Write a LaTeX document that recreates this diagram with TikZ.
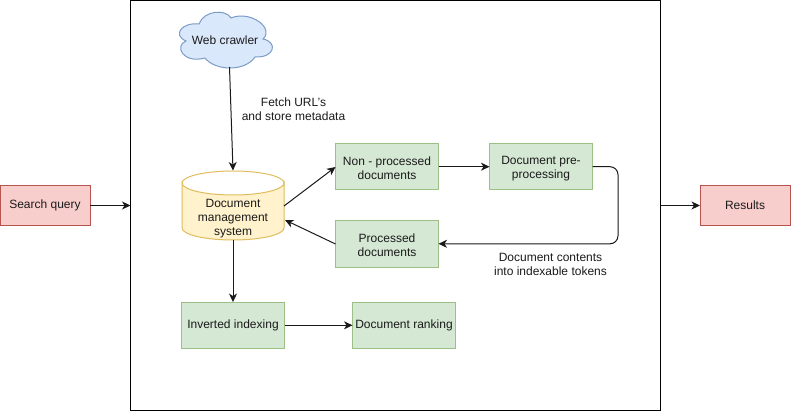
\documentclass[tikz,border=0pt]{standalone}
\usepackage{fontspec}
\setmainfont{Liberation Sans}
\usetikzlibrary{arrows.meta}
\definecolor{gfill}{HTML}{D5E8D4}
\definecolor{gline}{HTML}{9BBF85}
\definecolor{rfill}{HTML}{F8CECC}
\definecolor{rline}{HTML}{B85450}
\definecolor{yfill}{HTML}{FFF2CC}
\definecolor{yline}{HTML}{E0BC5C}
\definecolor{bfill}{HTML}{DAE8FC}
\definecolor{bline}{HTML}{7A9CC6}
\definecolor{ink}{HTML}{1A1A1A}
\newcommand{\lowerline}{\rule{0pt}{11.5pt}}
\tikzset{
  x=1pt,y=-1pt,
  every node/.style={font=\fontsize{12}{14}\selectfont,text=ink,align=center,inner sep=0pt,outer sep=0pt},
  greenbox/.style={draw=gline,fill=gfill,line width=1pt,minimum width=103pt,minimum height=46.5pt},
  redbox/.style={draw=rline,fill=rfill,line width=1pt,minimum width=90pt,minimum height=40pt},
  conn/.style={draw=ink,line width=1pt,-{Stealth[length=8.5pt,width=8pt,inset=2.5pt]}},
  shapeline/.style={line width=1pt}
}
\begin{document}
\begin{tikzpicture}
\useasboundingbox (0,0) rectangle (791,411);
\node[draw=black,line width=1pt,minimum width=530pt,minimum height=410pt] (frame) at (395.5,205.5) {};
% cloud
\draw[draw=bline,fill=bfill,shapeline]
 (186,41) .. controls (172,35) and (182,22) .. (199,24)
 .. controls (204,10) and (226,9) .. (231,18)
 .. controls (250,10) and (275,28) .. (263,39)
 .. controls (278,42) and (275,58) .. (255,57)
 .. controls (245,72) and (215,71) .. (205,58)
 .. controls (183,64) and (174,46) .. (186,41) -- cycle;
\node[minimum width=80pt,minimum height=54pt] (crawler) at (225,40) {Web crawler};
% cylinder
\draw[draw=yline,fill=yfill,shapeline]
 (182,183) arc[start angle=180,end angle=360,x radius=51,y radius=-12]
 -- (284,228) arc[start angle=0,end angle=-180,x radius=51,y radius=-12] -- cycle;
\draw[draw=yline,shapeline] (182,183) arc[start angle=180,end angle=360,x radius=51,y radius=12];
\node[minimum width=102pt,minimum height=69pt] (dms) at (233,205.5) {};
\node (dmstext) at (233,218.3) {Document\\management\\system};
% boxes
\node[greenbox] (nonproc) at (387,166.7) {\lowerline Non - processed\\documents};
\node[greenbox] (prepro) at (541,166.7) {\lowerline Document pre-\\processing};
\node[greenbox] (proc) at (387,243.8) {\lowerline Processed\\documents};
\node[greenbox] (inverted) at (233,325.3) {Inverted indexing};
\node[greenbox] (ranking) at (404,325.3) {Document ranking};
\node[redbox] (query) at (45,205.5) {Search query};
\node[redbox] (results) at (745,205.5) {Results};
% labels
\node (fetchlbl) at (293.5,109.5) {Fetch URL's\\and store metadata};
\node (tokenlbl) at (550.5,264.3) {Document contents\\into indexable tokens};
% connectors
\coordinate (fl) at (130.5,205.5);
\coordinate (fr) at (660.5,205.5);
\coordinate (c1) at (229.5,67);
\coordinate (d1) at (233,170.5);
\coordinate (d2) at (284,206);
\coordinate (d3) at (285,220);
\coordinate (n1) at (335.5,167);
\coordinate (p1) at (335.5,244);
\coordinate (d4) at (233,240);
\draw[conn] (query.east) -- (fl);
\draw[conn] (fr) -- (results.west);
\draw[conn] (c1) -- (d1);
\draw[conn] (d2) -- (n1);
\draw[conn] (p1) -- (d3);
\draw[conn] (nonproc.east) -- (prepro.west);
\draw[conn,rounded corners=8pt] (prepro.east) -- (618,166.7) -- (618,243.8) -- (proc.east);
\draw[conn] (d4) -- (inverted.north);
\draw[conn] (inverted.east) -- (ranking.west);
\end{tikzpicture}
\end{document}
